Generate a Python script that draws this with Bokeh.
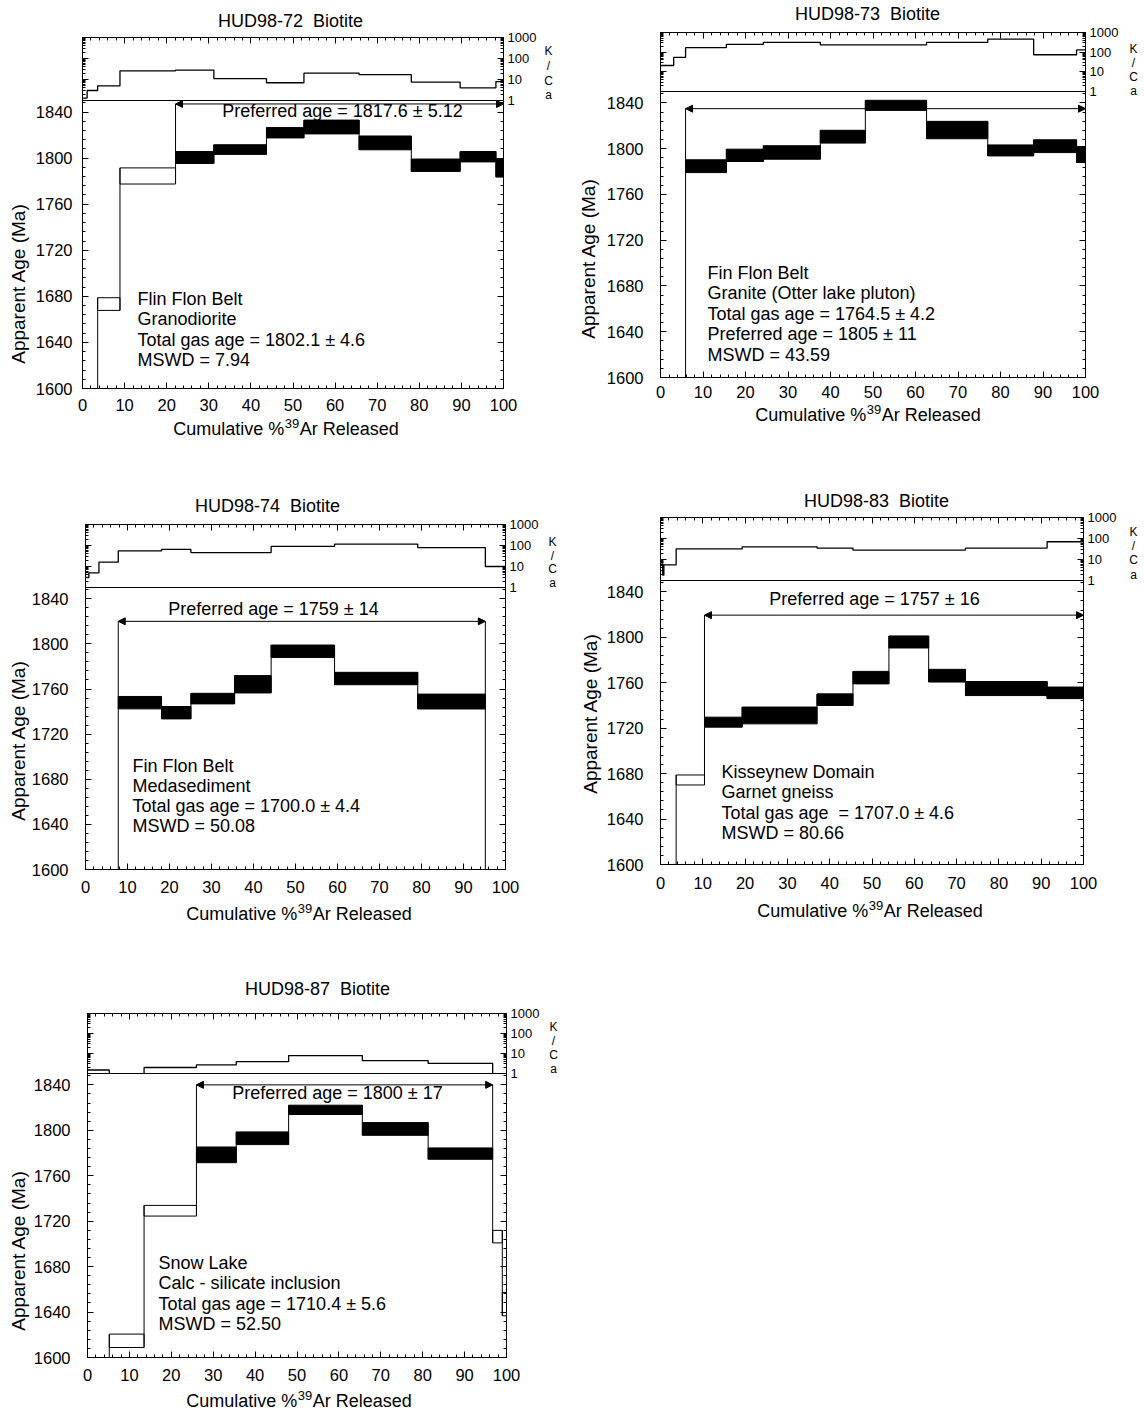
import math
from bokeh.plotting import figure
from bokeh.layouts import column, row
from bokeh.models import (Range1d, LinearAxis, LogAxis, FixedTicker, Label, Arrow,
                          NormalHead, Spacer, PrintfTickFormatter)
from bokeh.embed import file_html
from bokeh.resources import INLINE

FONT = "Liberation Sans"
NB = "\u00a0"
XLABEL_PARTS = ["Cumulative %", "39", "Ar Released"]
YLABEL = "Apparent Age (Ma)"
AGE_TICKS = [1600, 1640, 1680, 1720, 1760, 1800, 1840]
PCT_TICKS = [0, 10, 20, 30, 40, 50, 60, 70, 80, 90, 100]
KCA_TICKS = [1, 10, 100, 1000]

# ---------------- data ----------------
# HUD98-72
hud72_bounds = [0, 1.1, 3.6, 8.9, 22.1, 31.2, 43.7, 52.6, 65.7, 78.1, 89.7, 98.2, 100]
hud72_age = [1450, 1500, 1673.3, 1784.5, 1800.5, 1807.4, 1822.0, 1827.0, 1813.2, 1793.8, 1801.2, 1791.5]
hud72_err = [10, 10, 5.5, 7.0, 5.2, 4.2, 4.5, 6.0, 6.0, 5.4, 4.5, 8.0]
hud72_kca = [1.3, 3.0, 5.0, 26, 28, 11, 7, 20, 17, 7.5, 4, 8]
hud72_plateau = [4, 11]
hud72_arrow = 1847
hud72_pref = "Preferred age = 1817.6 \u00b1 5.12"
hud72_info = ["Flin Flon Belt", "Granodiorite", "Total gas age = 1802.1 \u00b1 4.6", "MSWD = 7.94"]

# HUD98-73
hud73_bounds = [0, 3.1, 5.9, 15.5, 24.2, 37.6, 48.2, 62.6, 77.0, 87.8, 97.9, 100]
hud73_age = [1450, 1500, 1784.7, 1794.2, 1796.7, 1810.5, 1837.9, 1816.3, 1798.5, 1802.2, 1794.9]
hud73_err = [10, 10, 5.6, 5.4, 5.9, 5.6, 4.4, 7.6, 4.8, 5.6, 7.0]
hud73_kca = [21, 54, 170, 250, 316, 233, 233, 316, 464, 74, 130]
hud73_plateau = [2, 10]
hud73_arrow = 1835
hud73_pref = ""
hud73_info = ["Fin Flon Belt", "Granite (Otter lake pluton)", "Total gas age = 1764.5 \u00b1 4.2",
              "Preferred age = 1805 \u00b1 11", "MSWD = 43.59"]

# HUD98-74
hud74_bounds = [0, 0.8, 3.2, 7.8, 18.1, 25.1, 35.5, 44.2, 59.3, 79.1, 95.2, 100]
hud74_age = [1400, 1450, 1500, 1747.9, 1739.0, 1751.5, 1764.2, 1793.5, 1769.3, 1748.9, 1550]
hud74_err = [10, 10, 10, 5.5, 5.5, 4.7, 7.7, 5.5, 5.5, 6.6, 10]
hud74_kca = [3, 5, 16, 55, 65, 46, 46, 90, 116, 80, 10]
hud74_plateau = [3, 9]
hud74_arrow = 1820
hud74_pref = "Preferred age = 1759 \u00b1 14"
hud74_info = ["Fin Flon Belt", "Medasediment", "Total gas age = 1700.0 \u00b1 4.4", "MSWD = 50.08"]

# HUD98-83
hud83_bounds = [0, 0.5, 0.8, 3.7, 10.4, 19.3, 37.0, 45.5, 54.0, 63.4, 72.1, 91.4, 100]
hud83_age = [1400, 1450, 1500, 1674.4, 1725.3, 1731.2, 1745.1, 1764.5, 1795.9, 1766.2, 1754.9, 1751.1]
hud83_err = [10, 10, 10, 4.4, 4.4, 7.4, 5.1, 5.5, 5.3, 5.6, 6.2, 5.1]
hud83_kca = [7, 1.8, 5.5, 32, 32, 40, 35, 28, 28, 28, 35, 70]
hud83_plateau = [4, 11]
hud83_arrow = 1819.5
hud83_pref = "Preferred age = 1757 \u00b1 16"
hud83_info = ["Kisseynew Domain", "Garnet gneiss", "Total gas age" + NB + " = 1707.0 \u00b1 4.6", "MSWD = 80.66"]

# HUD98-87
hud87_bounds = [0, 5.2, 13.5, 26.0, 35.5, 48.0, 65.6, 81.3, 96.7, 99.0, 100]
hud87_age = [1500, 1614.7, 1729.2, 1778.4, 1793.0, 1818.0, 1801.2, 1779.5, 1706.4, 1647.0]
hud87_err = [10, 5.9, 4.7, 6.9, 5.6, 4.1, 5.6, 5.0, 5.5, 10.3]
hud87_kca = [1.5, 0.5, 2.0, 2.7, 3.9, 7.9, 4.4, 3.2, 0.5, 0.5]
hud87_plateau = [3, 7]
hud87_arrow = 1840
hud87_pref = "Preferred age = 1800 \u00b1 17"
hud87_info = ["Snow Lake", "Calc - silicate inclusion", "Total gas age = 1710.4 \u00b1 5.6", "MSWD = 52.50"]

# ---------------- layout (page pixels) ----------------
PANELS = [
    dict(title="HUD98-72" + NB + " Biotite", bounds=hud72_bounds, age=hud72_age, err=hud72_err, kca=hud72_kca,
         plateau=hud72_plateau, arrow=hud72_arrow, pref=hud72_pref, info=hud72_info,
         colx=0, rowy0=0, rowy1=470, L=82, R=503, T1=37, M=100, B=388,
         title_xy=(290, 20), pref_xy=(342, 110), info_xy=(137, 298), info_dy=20.6,
         ylab_xy=(18, 283), xlab_xy=(285, 428), kca_x=548, kca_y=[50, 65, 80, 94],
         ystand=10, xstand=10),
    dict(title="HUD98-73" + NB + " Biotite", bounds=hud73_bounds, age=hud73_age, err=hud73_err, kca=hud73_kca,
         plateau=hud73_plateau, arrow=hud73_arrow, pref=hud73_pref, info=hud73_info,
         colx=572, rowy0=0, rowy1=470, L=660, R=1085, T1=32, M=91, B=377,
         title_xy=(867, 13), pref_xy=None, info_xy=(707, 272), info_dy=20.6,
         ylab_xy=(588, 258), xlab_xy=(867, 414), kca_x=1133, kca_y=[48, 62, 76, 90],
         ystand=17, xstand=8),
    dict(title="HUD98-74" + NB + " Biotite", bounds=hud74_bounds, age=hud74_age, err=hud74_err, kca=hud74_kca,
         plateau=hud74_plateau, arrow=hud74_arrow, pref=hud74_pref, info=hud74_info,
         colx=0, rowy0=470, rowy1=960, L=85, R=505, T1=524, M=587, B=869,
         title_xy=(267, 505), pref_xy=(273, 608), info_xy=(132, 765), info_dy=20.0,
         ylab_xy=(18, 740), xlab_xy=(298, 913), kca_x=552, kca_y=[541, 555, 568, 582],
         ystand=17, xstand=11),
    dict(title="HUD98-83" + NB + " Biotite", bounds=hud83_bounds, age=hud83_age, err=hud83_err, kca=hud83_kca,
         plateau=hud83_plateau, arrow=hud83_arrow, pref=hud83_pref, info=hud83_info,
         colx=572, rowy0=470, rowy1=960, L=660, R=1083, T1=517, M=580, B=864,
         title_xy=(876, 500), pref_xy=(874, 598), info_xy=(721, 771), info_dy=20.5,
         ylab_xy=(590, 713), xlab_xy=(869, 910), kca_x=1133, kca_y=[531, 545, 559, 574],
         ystand=17, xstand=12),
    dict(title="HUD98-87" + NB + " Biotite", bounds=hud87_bounds, age=hud87_age, err=hud87_err, kca=hud87_kca,
         plateau=hud87_plateau, arrow=hud87_arrow, pref=hud87_pref, info=hud87_info,
         colx=0, rowy0=960, rowy1=1411, L=87, R=506, T1=1013, M=1073, B=1357,
         title_xy=(317, 988), pref_xy=(337, 1092), info_xy=(158, 1262), info_dy=20.5,
         ylab_xy=(18, 1250), xlab_xy=(298, 1400), kca_x=553, kca_y=[1026, 1040, 1054, 1068],
         ystand=17, xstand=11),
]

COLW = 572
PAGE_W, PAGE_H = 1144, 1411
KB = 10  # K/Ca canvas overhang below its frame (room for the "1" tick label)

# approximate advance widths (em) of Liberation Sans, used to set the superscript in the x label
ADV = {"C": .722, "u": .556, "m": .833, "l": .222, "a": .556, "t": .278, "i": .222, "v": .5,
       "e": .556, " ": .278, "%": .889, "A": .667, "r": .333, "R": .722, "s": .5, "d": .556,
       "3": .556, "9": .556}


def text_w(s, size):
    return sum(ADV.get(c, .556) for c in s) * size


def style_axis(ax, size="16.5px", show=True, standoff=8):
    ax.axis_line_color = "black"
    ax.axis_line_width = 1
    ax.major_tick_in = 6
    ax.major_tick_out = 0
    ax.minor_tick_in = 3
    ax.minor_tick_out = 0
    ax.major_tick_line_color = "black"
    ax.minor_tick_line_color = "black"
    ax.major_label_text_font = FONT
    ax.major_label_text_font_size = size if show else "8px"
    ax.major_label_text_color = "black" if show else None
    ax.major_label_standoff = standoff


def new_fig(W, H, xr, yr, lb, rb, tb, bb, **kw):
    p = figure(width=W, height=H, x_range=xr, y_range=yr,
               min_border_left=lb, min_border_right=rb, min_border_top=tb, min_border_bottom=bb,
               output_backend="svg", toolbar_location=None, **kw)
    p.xgrid.visible = False
    p.ygrid.visible = False
    p.outline_line_color = "black"
    p.outline_line_width = 1
    p.background_fill_color = "white"
    p.border_fill_color = "white"
    return p


def label(fig, x, y, text, size, align="left", angle=0.0):
    fig.add_layout(Label(x=x, y=y, text=text, text_font=FONT, text_font_size=size,
                         text_align=align, text_baseline="middle", angle=angle,
                         text_color="black"))


# transparent page-sized overlay that carries the texts lying outside the plot frames
overlay = figure(width=PAGE_W, height=PAGE_H, x_range=Range1d(0, PAGE_W), y_range=Range1d(PAGE_H, 0),
                 x_axis_location=None, y_axis_location=None, min_border=0,
                 output_backend="svg", toolbar_location=None, margin=(-PAGE_H, 0, 0, 0))
overlay.xgrid.visible = False
overlay.ygrid.visible = False
overlay.outline_line_color = None
overlay.background_fill_alpha = 0
overlay.border_fill_alpha = 0


def xlabel(cx, cy):
    big, small = 18, 13
    w1 = text_w(XLABEL_PARTS[0], big)
    w2 = text_w(XLABEL_PARTS[1], small)
    w3 = text_w(XLABEL_PARTS[2], big)
    xs = cx - (w1 + w2 + w3) / 2.0 + w1
    label(overlay, xs, cy, XLABEL_PARTS[0], "%dpx" % big, align="right")
    label(overlay, xs + 0.5, cy - 5, XLABEL_PARTS[1], "%dpx" % small, align="left")
    label(overlay, xs + w2 + 1, cy, XLABEL_PARTS[2], "%dpx" % big, align="left")


def build(cfg):
    x0, y0, y1 = cfg["colx"], cfg["rowy0"], cfg["rowy1"]
    L, R, T1, M, B = cfg["L"], cfg["R"], cfg["T1"], cfg["M"], cfg["B"]
    lb = L - x0
    rb = COLW - (R - x0)

    def mx(px):
        return (px - L) * 100.0 / (R - L)

    def my(py):
        return 1600 + (B - py) * 250.0 / (B - M)

    bounds, ages, errs, kca = cfg["bounds"], cfg["age"], cfg["err"], cfg["kca"]
    n = len(ages)

    # ---------- K/Ca panel ----------
    kf = new_fig(COLW, M - y0 + KB, Range1d(0, 100), Range1d(1, 1000), lb, rb, T1 - y0, KB,
                 y_axis_type="log", y_axis_location="right", x_axis_location=None)
    kminor = [m * d for d in (1, 10, 100) for m in range(2, 10)]
    rax = kf.yaxis[0]
    rax.ticker = FixedTicker(ticks=KCA_TICKS, minor_ticks=kminor)
    rax.formatter = PrintfTickFormatter(format="%d")
    style_axis(rax, size="13px", standoff=4)
    lax = LogAxis(ticker=FixedTicker(ticks=KCA_TICKS, minor_ticks=kminor))
    style_axis(lax, show=False)
    kf.add_layout(lax, "left")
    tax = LinearAxis(ticker=FixedTicker(ticks=PCT_TICKS, minor_ticks=list(range(0, 101, 2))))
    style_axis(tax, show=False)
    kf.add_layout(tax, "above")
    kf.step(x=bounds, y=list(kca) + [kca[-1]], mode="after", line_color="black", line_width=1.3)

    # ---------- age spectrum panel ----------
    mh = y1 - M
    mf = new_fig(COLW, mh, Range1d(0, 100), Range1d(1600, 1850), lb, rb, 0, y1 - B,
                 margin=(-KB, 0, 0, 0))
    mf.background_fill_alpha = 0
    mf.border_fill_alpha = 0
    bax = mf.xaxis[0]
    bax.ticker = FixedTicker(ticks=PCT_TICKS, minor_ticks=list(range(0, 101, 2)))
    style_axis(bax, standoff=cfg["xstand"])
    yax = mf.yaxis[0]
    yax.ticker = FixedTicker(ticks=AGE_TICKS, minor_ticks=list(range(1600, 1851, 8)))
    style_axis(yax, standoff=cfg["ystand"])
    rax2 = LinearAxis(ticker=FixedTicker(ticks=AGE_TICKS, minor_ticks=list(range(1600, 1851, 8))))
    style_axis(rax2, show=False)
    mf.add_layout(rax2, "right")

    lo = [a - e for a, e in zip(ages, errs)]
    hi = [a + e for a, e in zip(ages, errs)]
    p0, p1 = cfg["plateau"]
    fills = ["black" if p0 <= i <= p1 else "white" for i in range(n)]
    mf.quad(left=bounds[:-1], right=bounds[1:], bottom=lo, top=hi,
            fill_color=fills, line_color="black", line_width=1)
    cx = bounds[1:-1]
    cy0 = [min(lo[i - 1], lo[i]) for i in range(1, n)]
    cy1 = [max(hi[i - 1], hi[i]) for i in range(1, n)]
    mf.segment(x0=cx, y0=cy0, x1=cx, y1=cy1, line_color="black", line_width=1)

    xa, xb = bounds[p0], bounds[p1 + 1]
    top_a = max(hi[p0], hi[p0 - 1]) if p0 > 0 else hi[p0]
    top_b = max(hi[p1], hi[p1 + 1]) if p1 + 1 < n else hi[p1]
    mf.segment(x0=[xa, xb], y0=[cfg["arrow"], cfg["arrow"]], x1=[xa, xb], y1=[top_a, top_b],
               line_color="black", line_width=1)
    mf.add_layout(Arrow(start=NormalHead(size=7, fill_color="black", line_color="black"),
                        end=NormalHead(size=7, fill_color="black", line_color="black"),
                        x_start=xa, y_start=cfg["arrow"], x_end=xb, y_end=cfg["arrow"],
                        line_color="black", line_width=1))

    if cfg["pref_xy"] is not None:
        label(mf, mx(cfg["pref_xy"][0]), my(cfg["pref_xy"][1]), cfg["pref"], "18px", align="center")
    ix, iy = cfg["info_xy"]
    for k, line in enumerate(cfg["info"]):
        label(mf, mx(ix), my(iy + k * cfg["info_dy"]), line, "18px")

    # texts outside the frames go on the page overlay
    label(overlay, cfg["title_xy"][0], cfg["title_xy"][1], cfg["title"], "18px", align="center")
    for ch, py in zip(["K", "/", "C", "a"], cfg["kca_y"]):
        label(overlay, cfg["kca_x"], py, ch, "12px", align="center")
    xlabel(cfg["xlab_xy"][0], cfg["xlab_xy"][1])
    label(overlay, cfg["ylab_xy"][0], cfg["ylab_xy"][1], YLABEL, "19px", align="center",
          angle=math.pi / 2)

    return column(kf, mf, spacing=0)


cols = [build(c) for c in PANELS]
root = column(
    row(cols[0], cols[1], spacing=0),
    row(cols[2], cols[3], spacing=0),
    row(cols[4], Spacer(width=COLW, height=PAGE_H - 960), spacing=0),
    overlay,
    spacing=0,
)

open("out.html", "w").write(file_html(root, INLINE))
